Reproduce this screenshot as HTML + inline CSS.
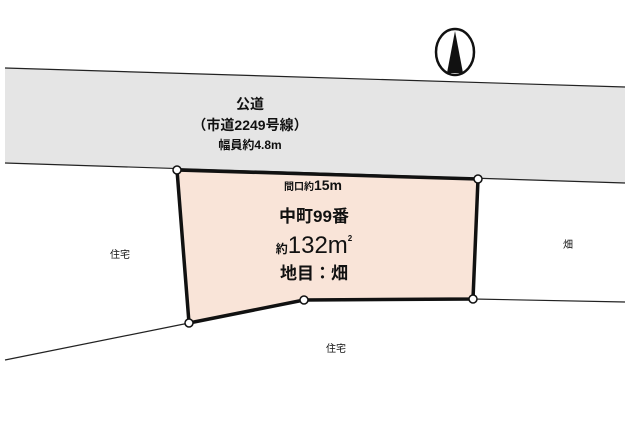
<!DOCTYPE html>
<html><head><meta charset="utf-8"><style>
body{margin:0;background:#fff;width:640px;height:443px;overflow:hidden}
text{font-family:"Liberation Sans","Noto Sans CJK JP",sans-serif;fill:#111}
</style></head><body>
<svg width="640" height="443" viewBox="0 0 640 443">
<polygon points="5,68 625,87 625,183 5,163" fill="#e5e5e5"/>
<line x1="5" y1="68" x2="625" y2="87" stroke="#222" stroke-width="1.2"/>
<line x1="5" y1="163" x2="625" y2="183" stroke="#222" stroke-width="1.2"/>
<line x1="5" y1="360" x2="189" y2="323" stroke="#222" stroke-width="1.2"/>
<line x1="473" y1="299" x2="625" y2="302" stroke="#222" stroke-width="1.2"/>
<polygon points="177,170 478,179 473,299 304,300 189,323" fill="#f9e4d8" stroke="#111" stroke-width="3.5" stroke-linejoin="round"/>
<g fill="#fff" stroke="#111" stroke-width="1.5">
<circle cx="177" cy="170" r="4"/><circle cx="478" cy="179" r="4"/><circle cx="473" cy="299" r="4"/><circle cx="304" cy="300" r="4"/><circle cx="189" cy="323" r="4"/>
</g>
<ellipse cx="455" cy="52" rx="19" ry="23" fill="#fff" stroke="#111" stroke-width="2.5"/>
<polygon points="455,31 447,73 463,73" fill="#111"/>
<text x="250" y="109" font-size="14" font-weight="bold" text-anchor="middle">公道</text>
<text x="250" y="130" font-size="14" font-weight="bold" text-anchor="middle">（市道2249号線）</text>
<text x="250" y="149" font-size="12" font-weight="bold" text-anchor="middle">幅員約4.8m</text>
<text x="313" y="190" font-size="10" font-weight="bold" text-anchor="middle">間口約<tspan font-size="14">15m</tspan></text>
<text x="314" y="222" font-size="17" font-weight="bold" text-anchor="middle">中町99番</text>
<text x="314" y="253" font-size="12" font-weight="bold" text-anchor="middle">約<tspan font-size="24" font-weight="normal">132m</tspan><tspan font-size="8" dy="-12">2</tspan></text>
<text x="314" y="279" font-size="17" font-weight="bold" text-anchor="middle">地目：畑</text>
<text x="120" y="258" font-size="10" text-anchor="middle">住宅</text>
<text x="568" y="248" font-size="10" text-anchor="middle">畑</text>
<text x="336" y="352" font-size="10" text-anchor="middle">住宅</text>
</svg>
</body></html>
